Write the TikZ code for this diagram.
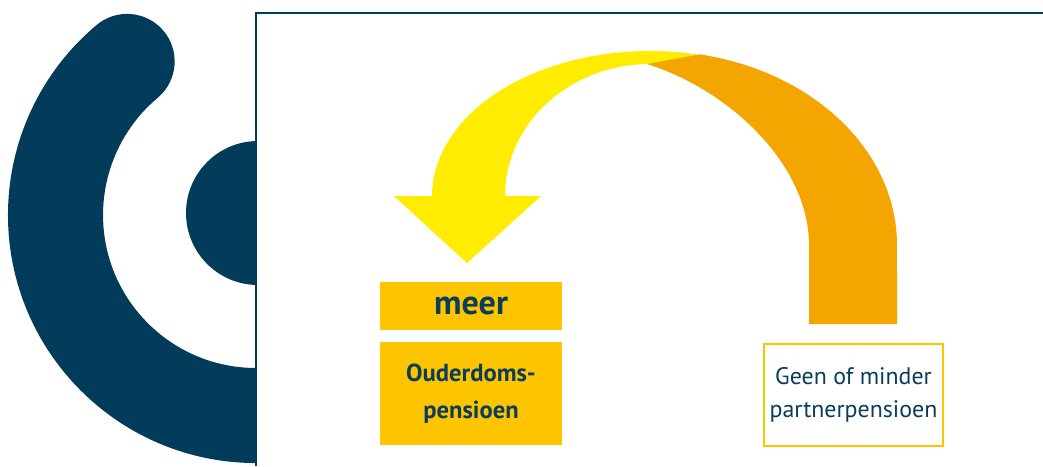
\documentclass[tikz,border=0pt]{standalone}
\usepackage{fontspec}
\setmainfont{PT Sans}

\definecolor{logoblue}{RGB}{3,60,90}
\definecolor{textblue}{RGB}{10,60,92}
\definecolor{boxyellow}{RGB}{253,197,0}
\definecolor{arrowyellow}{RGB}{255,236,0}
\definecolor{arroworange}{RGB}{244,165,0}

\begin{document}
\begin{tikzpicture}[x=0.01cm, y=-0.01cm,
	box/.style={inner sep=0pt, align=center, text=textblue, minimum width=1.82cm},
	meerbox/.style={box, fill=boxyellow, minimum height=0.48cm, font=\fontsize{9.7}{11}\selectfont\bfseries},
	oudbox/.style={box, fill=boxyellow, minimum height=1.03cm, font=\fontsize{7}{10.5}\selectfont\bfseries},
	partnerbox/.style={box, draw=boxyellow, line width=0.02cm, minimum width=1.79cm, minimum height=1.02cm, font=\fontsize{6.8}{9.5}\selectfont}]
	% afmetingen
	
	\def\xmax{1043}
	\def\ymax{466}
	
	\useasboundingbox (0,0) rectangle (\xmax,\ymax);
	
	% logo
	\draw[logoblue, line width=0.95cm, line cap=round] (256,415.5) arc[start angle=90, end angle=230, radius=200.5];
	\fill[logoblue] (258,213) circle[radius=72];
	
	% kader
	\fill[white] (256,0) rectangle (\xmax,\ymax);
	\draw[logoblue, line width=0.6pt] (256,\ymax) -- (256,13) -- (\xmax,13);
	
	% pijlen
	\fill[arrowyellow] (432,196) arc[start angle=180, end angle=283.3, x radius=218, y radius=145] -- (647,64) arc[start angle=268.8, end angle=180, x radius=145, y radius=132] -- (541,196) -- (467,263) -- (394,196) -- cycle;
	\fill[arroworange] (699.9,54.4) arc[start angle=-79.3, end angle=0, x radius=242, y radius=194] -- (897,324) -- (809,324) -- (809,245) .. controls (809,165) and (730,90) .. (647,64) -- cycle;
	
	% blokken
	\node[meerbox] (meer) at (471,306) {meer};
	\node[oudbox] (ouderdom) at (471,393.5) {Ouderdoms-\\pensioen};
	\node[partnerbox] (partner) at (853.5,395) {Geen of minder\\partnerpensioen};
\end{tikzpicture}
\end{document}
